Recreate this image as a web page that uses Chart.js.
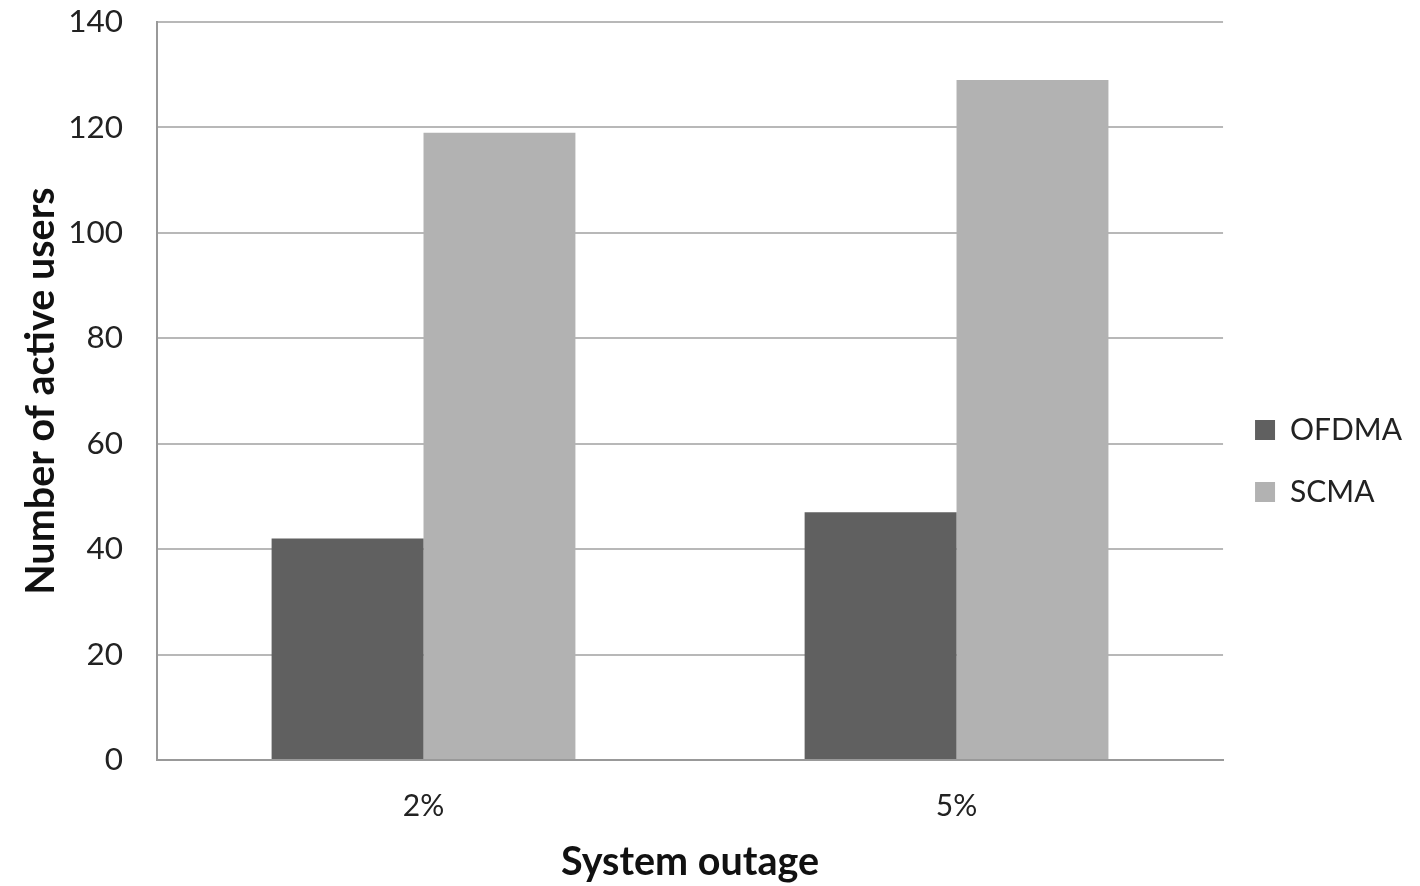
<!DOCTYPE html>
<html>
<head>
<meta charset="utf-8">
<script src="https://cdn.jsdelivr.net/npm/chart.js@4"></script>
<style>
  html, body { margin: 0; padding: 0; background: #fff; }
  #wrap { width: 1420px; height: 886px; }
</style>
</head>
<body>
<div id="wrap"><canvas id="grafica" width="1420" height="886"></canvas></div>
<script>
// datos
const categorias = ['2%', '5%'];
const ofdma = [42, 47];
const scma = [119, 129];
const ticksY = [0, 20, 40, 60, 80, 100, 120, 140];

const fuente = "Lato, 'Open Sans', sans-serif";

const ctx = document.getElementById('grafica').getContext('2d');
new Chart(ctx, {
    type: 'bar',
    data: {
        labels: categorias,
        datasets: [
            { label: 'OFDMA', data: ofdma, backgroundColor: '#606060' },
            { label: 'SCMA', data: scma, backgroundColor: '#b2b2b2' }
        ]
    },
    options: {
        responsive: false,
        animation: false,
        layout: { padding: { top: 22, right: 8, left: 18, bottom: 0 } },
        datasets: { bar: { categoryPercentage: 0.57, barPercentage: 1.0 } },
        plugins: {
            legend: {
                position: 'right',
                align: 'center',
                title: { display: true, text: ' ', font: { size: 10 }, padding: { top: 0, bottom: 2 } },
                labels: {
                    boxWidth: 20, boxHeight: 20, padding: 32,
                    color: '#222', font: { family: fuente, size: 30 }
                }
            },
            tooltip: { enabled: false }
        },
        scales: {
            x: {
                grid: { display: false, drawTicks: false },
                border: { color: '#999', width: 2 },
                ticks: { color: '#222', padding: 28, font: { family: fuente, size: 30 } },
                title: {
                    display: true, text: 'System outage', color: '#111',
                    font: { family: fuente, size: 39.5, weight: 'bold' },
                    padding: { top: 12, bottom: 0 }
                },
                afterFit: s => { s.height = 126; }
            },
            y: {
                min: 0, max: 140,
                afterBuildTicks: s => { s.ticks = ticksY.map(v => ({ value: v })); },
                grid: { color: '#b8b8b8', lineWidth: 2, drawTicks: false },
                border: { color: '#999', width: 2 },
                ticks: { color: '#222', padding: 34, font: { family: fuente, size: 31.5 } },
                title: {
                    display: true, text: 'Number of active users', color: '#111',
                    font: { family: fuente, size: 39.5, weight: 'bold' },
                    padding: { top: 0, bottom: 8 }
                },
                afterFit: s => { s.width = 139; s.paddingTop = 0; s.paddingBottom = 0; }
            }
        }
    }
});
</script>
</body>
</html>
